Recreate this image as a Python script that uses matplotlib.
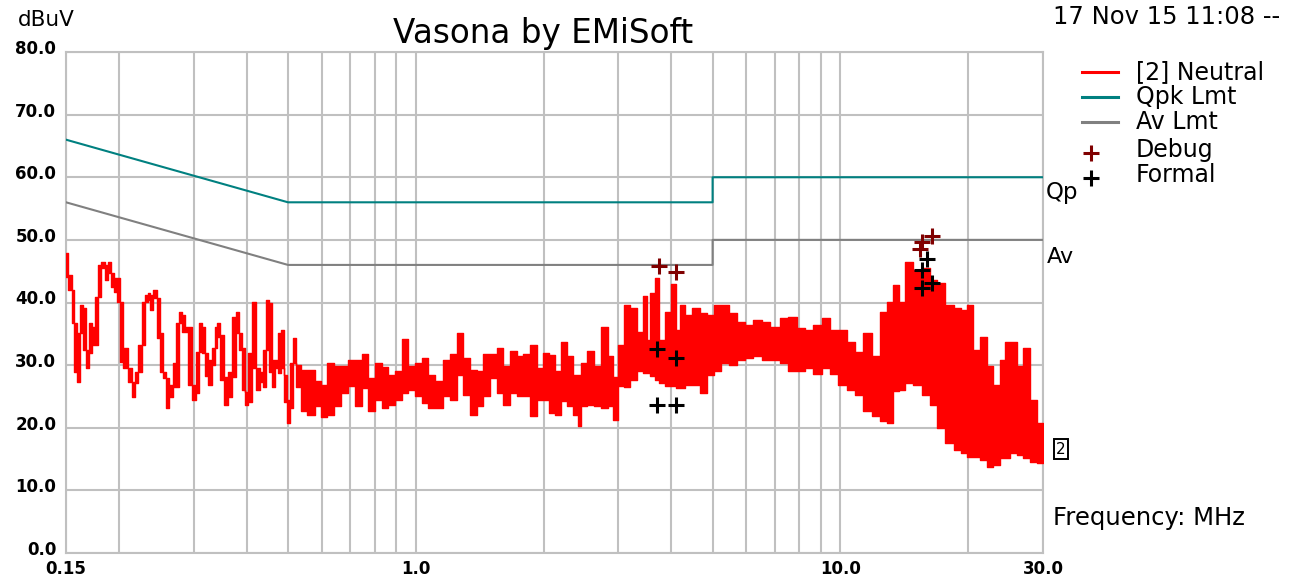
import matplotlib.pyplot as plt
from matplotlib.lines import Line2D
from matplotlib.ticker import NullFormatter
from matplotlib.transforms import ScaledTranslation

# measured trace, per frequency bin: max / min level (dBuV)
trace_freq = [0.150, 0.1535, 0.1556, 0.1578, 0.1601, 0.1630, 0.1654, 0.1684, 0.1709, 0.1739,
              0.1765, 0.1797, 0.1836, 0.1870, 0.1897, 0.1928, 0.1964, 0.1996, 0.2025, 0.2069,
              0.2122, 0.2161, 0.2201, 0.2241, 0.2281, 0.2324, 0.2349, 0.2387, 0.2430, 0.2474,
              0.2520, 0.2562, 0.2604, 0.2651, 0.2699, 0.2739, 0.2784, 0.2834, 0.2887, 0.2939,
              0.3008, 0.3053, 0.3103, 0.3159, 0.3217, 0.3276, 0.3335, 0.3378, 0.3434, 0.3490,
              0.3567, 0.3651, 0.3731, 0.3798, 0.3869, 0.3924, 0.3997, 0.4069, 0.4158, 0.4256,
              0.4342, 0.4413, 0.4479, 0.4552, 0.4617, 0.4703, 0.4788, 0.4858, 0.4938, 0.5019,
              0.5101, 0.5185, 0.5270,
              0.5434, 0.5659, 0.5894, 0.6085, 0.6280, 0.6541, 0.6812, 0.7064, 0.7322, 0.7592,
              0.7872, 0.8158, 0.8460, 0.8773, 0.9093, 0.9429, 0.9777, 1.0133, 1.0508, 1.0896,
              1.1349, 1.1820, 1.2251, 1.2704, 1.3173, 1.3652, 1.4157, 1.4686, 1.5221, 1.5785,
              1.6368, 1.6964, 1.7592, 1.8242, 1.8906, 1.9605, 2.0330,
              2.0788, 2.1650, 2.2355, 2.3072, 2.3926, 2.4200, 2.4796, 2.5714, 2.6782, 2.7900,
              2.8794, 2.9457, 3.0314, 3.1384, 3.2527, 3.3732, 3.4658, 3.5284, 3.6097, 3.6929,
              3.7944, 3.9326, 4.0408, 4.1517, 4.2357, 4.3640, 4.5648, 4.7543, 4.9302, 5.1350,
              5.3480, 5.5701, 5.8266, 6.0981, 6.3789, 6.6725, 7.0140,
              7.3725, 7.7120, 8.0670, 8.4428, 8.8317, 9.2382, 9.6687, 10.114, 10.580, 11.072,
              11.582, 12.115, 12.618, 13.085, 13.504, 13.943, 14.522, 15.188, 15.888, 16.547,
              17.234, 18.116, 18.950, 19.567, 20.192, 20.939, 21.702, 22.506, 23.339, 24.190,
              24.640, 25.538, 26.483, 27.464, 28.464, 29.52, 30.0]
trace_hi = [47.9, 44.4, 42.0, 36.7, 35.1, 39.6, 39.1, 32.4, 36.7, 36.1,
            40.9, 46.0, 46.5, 46.0, 46.5, 44.7, 43.9, 43.9, 40.1, 32.7,
            29.6, 27.3, 28.9, 33.2, 40.1, 41.2, 41.5, 41.2, 42.0, 40.7,
            35.1, 28.9, 28.0, 26.8, 30.4, 36.7, 38.5, 38.0, 36.1, 36.1,
            26.8, 32.1, 36.7, 36.1, 31.9, 30.8, 32.7, 36.1, 36.7, 34.8,
            28.1, 28.9, 37.7, 38.5, 35.1, 32.7, 25.7, 31.9, 40.1, 29.6,
            28.9, 32.4, 40.4, 39.9, 30.8, 30.8, 35.1, 35.6, 28.4, 24.4,
            30.4, 34.3, 30.0,
            29.3, 29.3, 27.4, 26.8, 30.3, 29.9, 29.8, 30.8, 30.8, 31.8,
            27.9, 30.3, 29.7, 28.4, 29.0, 34.1, 29.9, 30.3, 31.2, 28.4,
            27.4, 30.8, 31.8, 35.2, 31.2, 29.3, 29.0, 31.8, 31.8, 32.7,
            29.9, 32.3, 31.4, 31.8, 33.2, 29.5, 31.9,
            31.6, 29.0, 33.7, 31.4, 28.4, 28.4, 30.3, 32.3, 29.8, 36.1,
            31.4, 28.1, 33.2, 39.6, 39.1, 35.3, 41.0, 34.0, 41.5, 43.9,
            34.0, 38.5, 43.0, 35.6, 39.6, 38.0, 39.1, 38.3, 38.0, 39.6,
            39.6, 38.3, 36.9, 36.4, 37.2, 36.9, 36.1,
            37.5, 37.7, 35.9, 35.6, 36.4, 37.6, 35.6, 35.6, 33.7, 32.1,
            35.1, 31.4, 38.5, 40.1, 42.8, 40.1, 46.5, 45.2, 45.5, 43.6,
            43.1, 39.6, 39.1, 38.8, 39.6, 32.4, 34.5, 29.8, 26.8, 30.8,
            33.7, 33.7, 29.8, 32.7, 24.4, 20.7, 20.7]
trace_lo = [44.1, 42.0, 36.7, 28.9, 27.3, 35.1, 32.4, 29.6, 31.9, 33.2,
            33.2, 40.9, 45.5, 43.6, 44.7, 42.5, 41.7, 40.1, 30.5, 29.6,
            27.3, 24.9, 27.2, 28.9, 33.2, 40.1, 40.4, 38.8, 40.7, 34.3,
            28.9, 28.0, 23.2, 24.9, 26.5, 26.5, 36.7, 35.3, 35.3, 26.8,
            24.4, 25.6, 32.1, 31.9, 28.2, 26.8, 30.0, 32.7, 34.5, 27.6,
            23.6, 24.9, 28.1, 35.1, 32.4, 26.0, 23.6, 24.1, 29.6, 26.0,
            27.3, 26.5, 32.4, 28.9, 26.5, 29.6, 28.8, 29.6, 24.1, 20.8,
            23.2, 30.4, 26.5,
            22.6, 22.0, 23.4, 21.7, 22.0, 23.4, 25.5, 26.6, 23.5, 26.3,
            22.6, 24.4, 23.1, 23.6, 24.4, 25.5, 26.0, 25.0, 24.0, 23.1,
            23.1, 25.0, 24.5, 28.4, 25.2, 22.0, 23.5, 25.0, 27.9, 25.5,
            23.6, 25.5, 25.0, 25.0, 21.8, 24.4, 24.5,
            22.3, 22.0, 24.2, 23.4, 22.0, 20.2, 23.4, 23.6, 23.4, 23.1,
            23.4, 21.2, 26.6, 26.5, 27.6, 29.0, 28.7, 28.7, 28.2, 27.6,
            27.1, 26.6, 26.6, 26.3, 26.3, 26.8, 26.8, 25.5, 28.4, 29.0,
            30.3, 30.0, 30.8, 31.1, 31.4, 30.8, 30.8,
            30.3, 29.0, 29.0, 29.5, 28.6, 29.5, 28.6, 26.8, 26.0, 25.2,
            22.6, 21.8, 21.0, 20.7, 25.8, 26.0, 27.1, 26.8, 25.2, 23.6,
            19.9, 17.5, 16.4, 15.9, 15.4, 15.4, 14.9, 13.8, 14.1, 15.1,
            15.1, 15.9, 15.6, 15.1, 14.6, 14.3, 14.3]

# limit lines
qpk_freq = [0.15, 0.5, 5.0, 5.0, 30.0]
qpk_level = [66.0, 56.0, 56.0, 60.0, 60.0]
av_freq = [0.15, 0.5, 5.0, 5.0, 30.0]
av_level = [56.0, 46.0, 46.0, 50.0, 50.0]

# markers
debug_freq = [3.74, 4.10, 16.40, 15.54, 15.40]
debug_level = [45.8, 44.9, 50.6, 49.7, 48.6]
formal_freq = [3.70, 4.10, 3.70, 4.10, 15.97, 15.54, 16.40, 15.54]
formal_level = [32.6, 31.1, 23.6, 23.6, 47.0, 45.2, 43.1, 42.3]

x_major = [0.15, 1.0, 10.0, 30.0]
x_major_labels = ['0.15', '1.0', '10.0', '30.0']
x_minor = [0.2, 0.3, 0.4, 0.5, 0.6, 0.7, 0.8, 0.9, 2, 3, 4, 5, 6, 7, 8, 9, 20]
y_ticks = [0, 10, 20, 30, 40, 50, 60, 70, 80]

W, H = 1299, 582


def px(x, y):
    return x / W, 1 - y / H


fig = plt.figure(figsize=(W / 100, H / 100), dpi=100)
ax = fig.add_axes([66 / W, 1 - 553 / H, (1043 - 66) / W, (553 - 52) / H])
ax.set_xscale('log')

ax.fill_between(trace_freq, trace_lo, trace_hi, step='mid', facecolor='#ff0000',
                edgecolor='#ff0000', lw=1.0, zorder=3)
ax.plot(qpk_freq, qpk_level, color='#008080', lw=1.5, zorder=4)
ax.plot(av_freq, av_level, color='#808080', lw=1.5, zorder=4)
ax.plot(debug_freq, debug_level, ls='none', marker='+', color='#800000', ms=11, mew=2.2, zorder=5)
ax.plot(formal_freq, formal_level, ls='none', marker='+', color='black', ms=11, mew=2.2, zorder=6)

ax.set_xlim(0.15, 30)
ax.set_ylim(0, 80)
ax.set_xticks(x_major)
ax.set_xticklabels(x_major_labels)
ax.set_xticks(x_minor, minor=True)
ax.xaxis.set_minor_formatter(NullFormatter())
ax.set_yticks(y_ticks)
ax.set_yticklabels([f'{v:.1f}' for v in y_ticks])
ax.tick_params(which='both', length=0, labelsize=12)
ax.tick_params(axis='y', pad=7)
ax.tick_params(axis='x', pad=5)
ax.grid(which='both', color='#c0c0c0', lw=1.5)
ax.set_axisbelow(True)
for s in ax.spines.values():
    s.set_color('#c0c0c0')
    s.set_linewidth(1.5)

off = ScaledTranslation(0, 5 / 100, fig.dpi_scale_trans)
for lbl in ax.get_yticklabels():
    lbl.set_fontweight('bold')
    lbl.set_transform(lbl.get_transform() + off)
for lbl in ax.get_xticklabels():
    lbl.set_fontweight('bold')

# titles and side texts
fig.text(*px(543, 33), 'Vasona by EMiSoft', ha='center', va='center', fontsize=23.5)
fig.text(*px(18, 20), 'dBuV', ha='left', va='center', fontsize=15.5)
fig.text(*px(1053, 17), '17 Nov 15 11:08 --', ha='left', va='center', fontsize=17.5)

# hand-made legend
legend_items = [('[2] Neutral', '#ff0000', 72), ('Qpk Lmt', '#008080', 97), ('Av Lmt', '#808080', 122)]
for label, col, yy in legend_items:
    x0, y0 = px(1082, yy)
    x1, _ = px(1118, yy)
    fig.add_artist(Line2D([x0, x1], [y0, y0], color=col, lw=2.2, transform=fig.transFigure))
    fig.text(*px(1136, yy), label, ha='left', va='center', fontsize=17)
for label, col, yy in [('Debug', '#800000', 153), ('Formal', 'black', 178)]:
    fig.add_artist(Line2D([px(1091, yy)[0]], [px(1091, yy)[1]], marker='+', ms=11, mew=2.2,
                          color=col, transform=fig.transFigure))
    fig.text(*px(1136, yy - 3), label, ha='left', va='center', fontsize=17)

fig.text(*px(1046, 193), 'Qp', ha='left', va='center', fontsize=16.5)
fig.text(*px(1047, 257), 'Av', ha='left', va='center', fontsize=16)
fig.text(*px(1061, 449), '2', ha='center', va='center', fontsize=11,
         bbox=dict(boxstyle='square,pad=0.15', fc='white', ec='black', lw=1.4))
fig.text(*px(1053, 518), 'Frequency: MHz', ha='left', va='center', fontsize=17.5)

fig.savefig('out.png', dpi=100)
